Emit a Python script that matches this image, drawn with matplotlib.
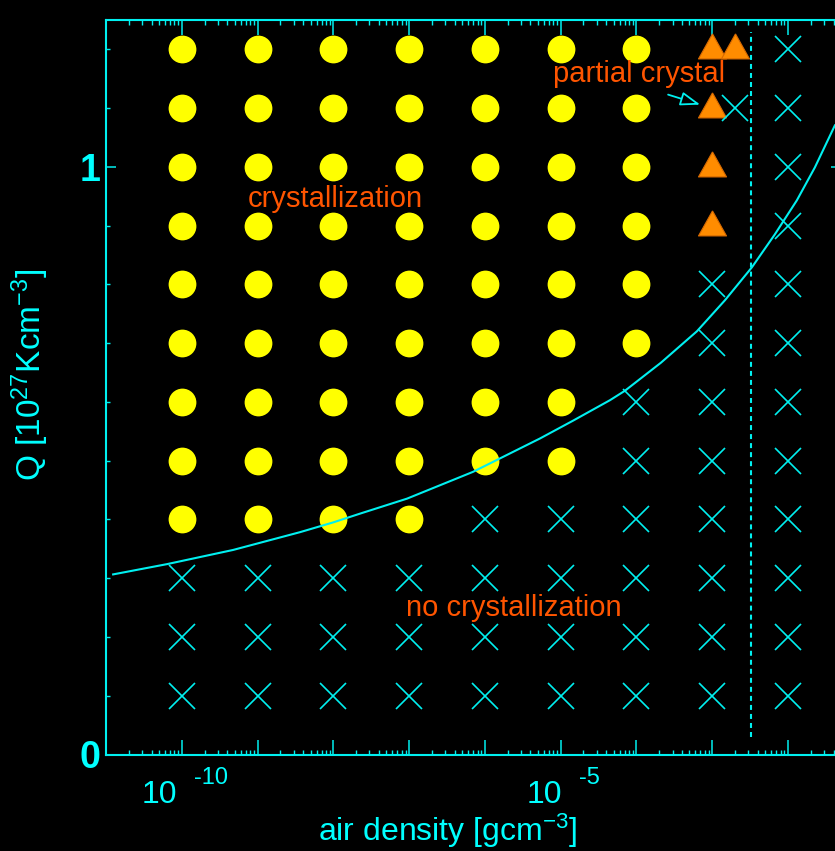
import numpy as np
import matplotlib
matplotlib.use("Agg")
import matplotlib.pyplot as plt
from matplotlib.ticker import LogLocator, MultipleLocator, NullFormatter, FixedLocator
from matplotlib.transforms import offset_copy

plt.rcParams['font.family'] = ['Liberation Sans', 'DejaVu Sans']
plt.rcParams['mathtext.fontset'] = 'custom'
plt.rcParams['mathtext.rm'] = 'Liberation Sans'
plt.rcParams['mathtext.it'] = 'Liberation Sans:italic'
plt.rcParams['mathtext.bf'] = 'Liberation Sans:bold'
plt.rcParams['lines.scale_dashes'] = False

# ---- data -------------------------------------------------------------
# simulation runs: air density [g cm^-3] for each heating rate Q row
crystal_runs = {
    1.2: [1e-10, 1e-9, 1e-8, 1e-7, 1e-6, 1e-5, 1e-4],
    1.1: [1e-10, 1e-9, 1e-8, 1e-7, 1e-6, 1e-5, 1e-4],
    1.0: [1e-10, 1e-9, 1e-8, 1e-7, 1e-6, 1e-5, 1e-4],
    0.9: [1e-10, 1e-9, 1e-8, 1e-7, 1e-6, 1e-5, 1e-4],
    0.8: [1e-10, 1e-9, 1e-8, 1e-7, 1e-6, 1e-5, 1e-4],
    0.7: [1e-10, 1e-9, 1e-8, 1e-7, 1e-6, 1e-5, 1e-4],
    0.6: [1e-10, 1e-9, 1e-8, 1e-7, 1e-6, 1e-5],
    0.5: [1e-10, 1e-9, 1e-8, 1e-7, 1e-6, 1e-5],
    0.4: [1e-10, 1e-9, 1e-8, 1e-7],
}
partial_runs = {
    1.2: [1e-3, 2e-3],
    1.1: [1e-3],
    1.0: [1e-3],
    0.9: [1e-3],
}
none_runs = {
    1.2: [1e-2],
    1.1: [2e-3, 1e-2],
    1.0: [1e-2],
    0.9: [1e-2],
    0.8: [1e-3, 1e-2],
    0.7: [1e-3, 1e-2],
    0.6: [1e-4, 1e-3, 1e-2],
    0.5: [1e-4, 1e-3, 1e-2],
    0.4: [1e-6, 1e-5, 1e-4, 1e-3, 1e-2],
    0.3: [1e-10, 1e-9, 1e-8, 1e-7, 1e-6, 1e-5, 1e-4, 1e-3, 1e-2],
    0.2: [1e-10, 1e-9, 1e-8, 1e-7, 1e-6, 1e-5, 1e-4, 1e-3, 1e-2],
    0.1: [1e-10, 1e-9, 1e-8, 1e-7, 1e-6, 1e-5, 1e-4, 1e-3, 1e-2],
}

# critical heating-rate curve (log10 air density, Q)
curve_log_rho = [-10.906, -10.194, -9.323, -8.439, -8.004, -7.648, -7.028,
                 -6.157, -5.273, -4.838, -4.350, -4.152, -3.677, -3.202,
                 -2.832, -2.476, -2.173, -1.883, -1.645, -1.381]
curve_q = [0.3065, 0.3240, 0.3481, 0.3784, 0.3949, 0.4099, 0.4354,
           0.4810, 0.5378, 0.5680, 0.6029, 0.6190, 0.6667, 0.7202,
           0.7730, 0.8291, 0.8852, 0.9430, 0.9991, 1.0706]

limit_rho = 3.3e-3
x_range = (1e-11, 10 ** -1.3)
y_range = (0.0, 1.25)
xtick_label_rho = [1e-10, 1e-5]
ytick_values = [0, 1]
ytick_labels = ['0', '1']


def flatten(runs):
    xs, ys = [], []
    for q, rhos in runs.items():
        for r in rhos:
            xs.append(r)
            ys.append(q)
    return np.array(xs), np.array(ys)


CYAN = '#00f0f0'
TXT_CYAN = '#00ffff'
ORANGE_TXT = '#ff5500'

# ---- figure -----------------------------------------------------------
fig = plt.figure(figsize=(8.35, 8.51), dpi=100, facecolor='black')
W, H = 835.0, 851.0
left_px, right_px, top_px, bottom_px = 106, 841, 20, 754.5
ax = fig.add_axes([left_px / W, 1 - bottom_px / H,
                   (right_px - left_px) / W, (bottom_px - top_px) / H])
ax.set_facecolor('black')
ax.set_xscale('log')
ax.set_xlim(*x_range)
ax.set_ylim(*y_range)

cx, cy = flatten(crystal_runs)
ax.plot(cx, cy, 'o', ms=20, mfc='#ffff00', mec='none', zorder=3)

tri = [(0, 1.0), (-0.897, -0.603), (0.897, -0.603), (0, 1.0)]
px_, py_ = flatten(partial_runs)
ax.plot(px_, py_, ls='none', marker=tri, ms=22.5, mfc='#ff8c00',
        mec='#d86a00', mew=0.8, zorder=4)

nx, ny = flatten(none_runs)
ax.plot(nx, ny, 'x', ms=19, mec=CYAN, mew=1.2, zorder=5)

ax.plot(10 ** np.array(curve_log_rho), curve_q, color=CYAN, lw=1.5,
        solid_joinstyle='round', zorder=6)

ax.vlines(limit_rho, 0.03, 1.23, colors=CYAN, lw=1.5,
          linestyles=(0, (3.6, 2.9)), zorder=2)

# region labels
ax.text(1.07e-8, 0.932, 'crystallization', color=ORANGE_TXT, fontsize=21,
        ha='center', va='baseline', zorder=7)
ax.text(2.43e-6, 0.2355, 'no crystallization', color=ORANGE_TXT,
        fontsize=21, ha='center', va='baseline', zorder=7)
ax.text(1.09e-4, 1.144, 'partial crystal', color=ORANGE_TXT, fontsize=21,
        ha='center', va='baseline', zorder=7)
ax.annotate('', xy=(6.95e-4, 1.106), xytext=(2.62e-4, 1.123),
            arrowprops=dict(arrowstyle='-|>,head_length=1.2,head_width=0.42',
                            fc='black', ec=CYAN, lw=1.3,
                            shrinkA=0, shrinkB=0), zorder=7)

# spines and ticks
for s in ax.spines.values():
    s.set_color(CYAN)
    s.set_linewidth(1.5)

ax.xaxis.set_major_locator(LogLocator(base=10, numticks=30))
ax.xaxis.set_minor_locator(LogLocator(base=10, subs=np.arange(2, 10),
                                      numticks=30))
ax.xaxis.set_major_formatter(NullFormatter())
ax.xaxis.set_minor_formatter(NullFormatter())
ax.yaxis.set_major_locator(FixedLocator(ytick_values))
ax.yaxis.set_minor_locator(MultipleLocator(0.1))
ax.set_yticklabels(ytick_labels)

ax.tick_params(axis='x', which='major', direction='in', length=10.8,
               width=1.1, color=CYAN, top=True, bottom=True)
ax.tick_params(axis='x', which='minor', direction='in', length=3.6,
               width=1.0, color=CYAN, top=True, bottom=True)
ax.tick_params(axis='y', which='major', direction='in', length=7.2,
               width=1.1, color=CYAN, left=True, right=True, pad=4,
               labelsize=27, labelcolor=TXT_CYAN)
ax.tick_params(axis='y', which='minor', direction='in', length=2.9,
               width=1.0, color=CYAN, left=True, right=True)
for lab in ax.get_yticklabels():
    lab.set_fontweight('bold')

# x tick labels written as "10" with a raised exponent
renderer = fig.canvas.get_renderer()
xtrans = ax.get_xaxis_transform()
for rho in xtick_label_rho:
    expo = int(round(np.log10(rho)))
    base = fig.text(0, 0, '10', fontsize=23, color=TXT_CYAN)
    sup = fig.text(0, 0, str(expo), fontsize=17, color=TXT_CYAN)
    wb = base.get_window_extent(renderer).width
    ws = sup.get_window_extent(renderer).width
    base.remove()
    sup.remove()
    gap = 17.0
    total = wb + gap + ws
    x0 = 3.0 - total / 2.0
    ax.text(rho, 0, '10', fontsize=23, color=TXT_CYAN, ha='left',
            va='baseline', clip_on=False,
            transform=offset_copy(xtrans, fig=fig, x=x0, y=-48.5,
                                  units='dots'))
    ax.text(rho, 0, str(expo), fontsize=17, color=TXT_CYAN, ha='left',
            va='baseline', clip_on=False,
            transform=offset_copy(xtrans, fig=fig, x=x0 + wb + gap,
                                  y=-29.5, units='dots'))

fig.text(448 / W, 1 - 840.5 / H, r'air density [gcm$^{-3}$]', fontsize=23,
         color=TXT_CYAN, ha='center', va='baseline')
fig.text(30 / W, 1 - 375 / H, r'Q [10$^{27}$Kcm$^{-3}$]', fontsize=24,
         color=TXT_CYAN, ha='center', va='center', rotation=90)

fig.savefig('out.png', dpi=100, facecolor='black')
